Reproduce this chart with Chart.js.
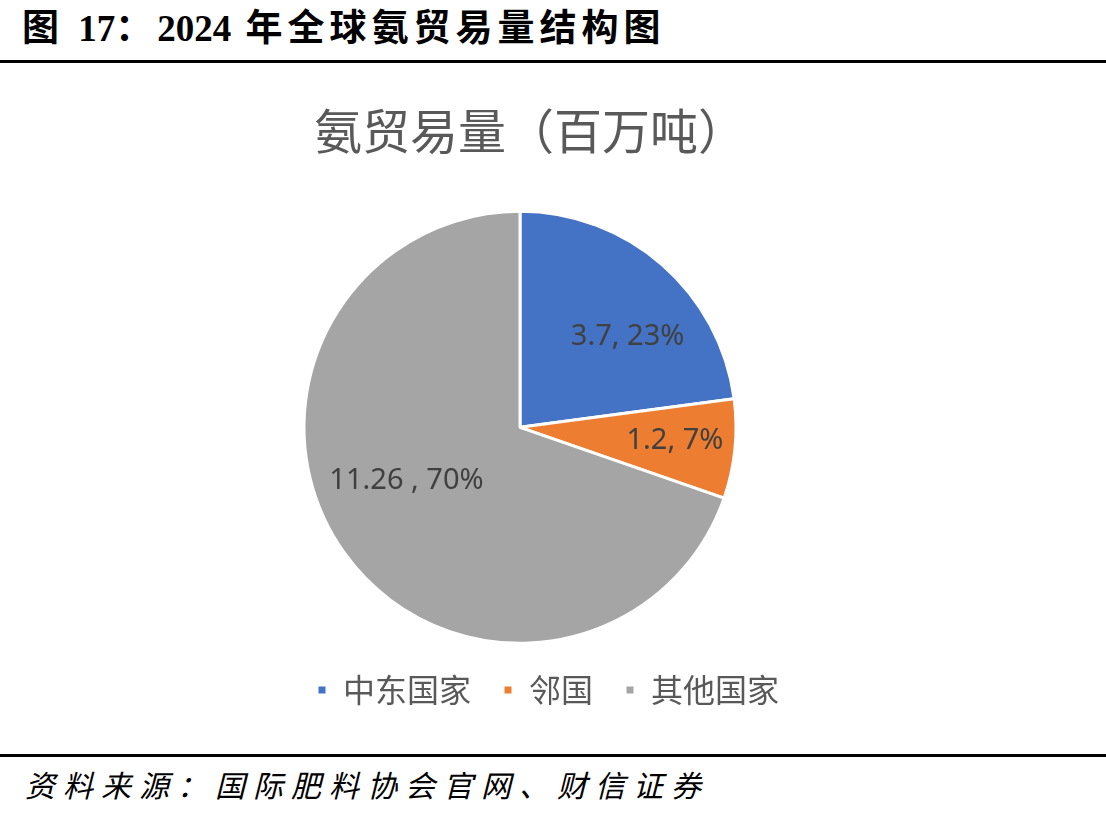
<!DOCTYPE html>
<html>
<head>
<meta charset="utf-8">
<script src="https://cdn.jsdelivr.net/npm/chart.js@4"></script>
<style>
  body { margin: 0; width: 1106px; height: 816px; background: #fff; position: relative; overflow: hidden; }
  .head {
    position: absolute; left: 22px; top: -2px;
    font: bold 37px "Liberation Serif", "Noto Sans CJK SC", serif;
    letter-spacing: 5px; color: #000; white-space: nowrap;
  }
  .head .num { letter-spacing: 0; }
  .rule { position: absolute; left: 0; width: 1106px; height: 3px; background: #000; }
  .src {
    position: absolute; left: 25px; top: 762px;
    font: italic 30px "Noto Sans CJK SC", sans-serif;
    letter-spacing: 8px; color: #000; white-space: nowrap;
  }
  .chart-box { position: absolute; left: 0; top: 62px; width: 1048px; height: 690px; }
</style>
</head>
<body>
<div class="head">图 <span class="num">17</span>：<span class="num">2024</span> 年全球氨贸易量结构图</div>
<div class="rule" style="top:60px"></div>
<div class="chart-box"><canvas class="my-chart"></canvas></div>
<div class="rule" style="top:754px"></div>
<div class="src">资料来源：国际肥料协会官网、财信证券</div>

<script>
const myChart = document.querySelector('.my-chart');

const labels = ['中东国家', '邻国', '其他国家'];
const volumes = [3.7, 1.2, 11.26];
const labelSeps = [', ', ', ', ' , '];
const colors = ['#4472C4', '#ED7D31', '#A5A5A5'];

// where each label sits inside its slice (angle shift in degrees, fraction of radius)
const labelPos = [
    { shift: 8.8, frac: 0.65 },
    { shift: -1, frac: 0.72 },
    { shift: 10.4, frac: 0.58 }
];

const sliceLabels = {
    id: 'sliceLabels',
    afterDatasetsDraw(chart) {
        const ctx = chart.ctx;
        const meta = chart.getDatasetMeta(0);
        const total = volumes.reduce((a, b) => a + b, 0);
        ctx.save();
        ctx.font = '29px "Noto Sans", sans-serif';
        ctx.fillStyle = '#404040';
        ctx.textAlign = 'center';
        ctx.textBaseline = 'middle';
        meta.data.forEach((arc, i) => {
            const p = arc.getProps(['x', 'y', 'startAngle', 'endAngle', 'outerRadius'], true);
            const ang = (p.startAngle + p.endAngle) / 2 + labelPos[i].shift * Math.PI / 180;
            const r = p.outerRadius * labelPos[i].frac;
            const pct = Math.round(volumes[i] / total * 100);
            const text = volumes[i] + labelSeps[i] + pct + '%';
            ctx.fillText(text, p.x + Math.cos(ang) * r, p.y + Math.sin(ang) * r);
        });
        ctx.restore();
    }
};

// the legend and title in the original are not centred on the pie
const nudgeBoxes = {
    id: 'nudgeBoxes',
    afterLayout(chart) {
        chart.legend.left += 28;
        chart.legend.right += 28;
        chart.titleBlock.left += 10;
        chart.titleBlock.right += 10;
    }
};

new Chart(myChart, {
    type: 'pie',
    data: {
        labels: labels,
        datasets: [{
            label: '氨贸易量（百万吨）',
            data: volumes,
            backgroundColor: colors,
            borderColor: '#ffffff',
            borderWidth: 3,
            radius: 216
        }]
    },
    options: {
        responsive: true,
        maintainAspectRatio: false,
        animation: false,
        layout: { padding: { right: 8, bottom: 36 } },
        plugins: {
            title: {
                display: true,
                text: '氨贸易量（百万吨）',
                color: '#595959',
                font: { size: 48, family: '"Noto Sans CJK SC", sans-serif', weight: 'normal' },
                padding: { top: 40, bottom: 53 }
            },
            legend: {
                display: true,
                position: 'bottom',
                labels: {
                    color: '#595959',
                    font: { size: 32, family: '"Noto Sans CJK SC", sans-serif' },
                    boxWidth: 10,
                    boxHeight: 10,
                    padding: 32
                }
            },
            tooltip: { enabled: false }
        }
    },
    plugins: [sliceLabels, nudgeBoxes]
});
</script>
</body>
</html>
